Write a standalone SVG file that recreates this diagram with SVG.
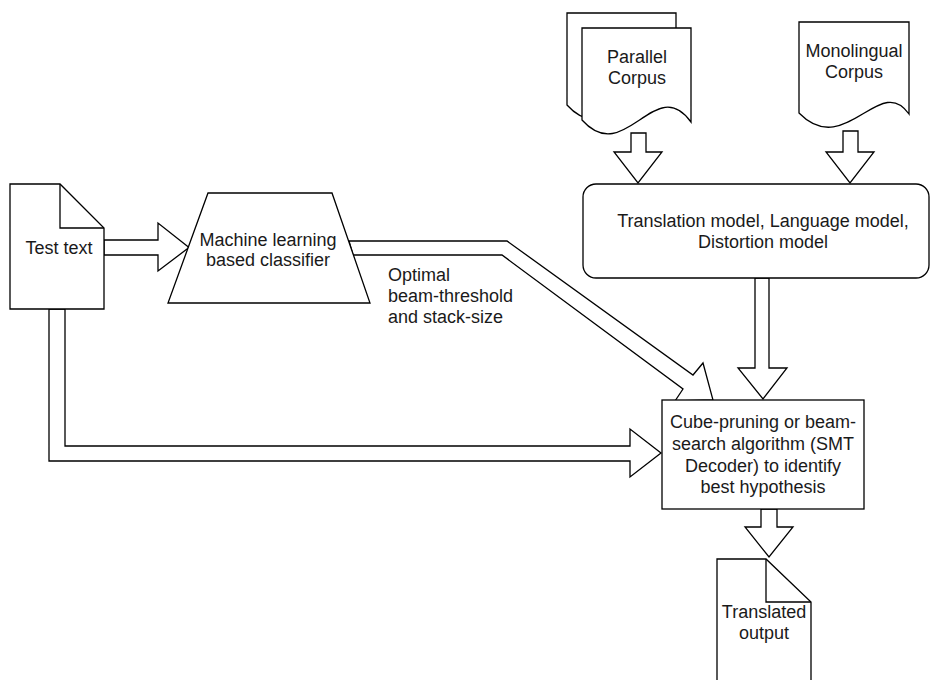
<svg xmlns="http://www.w3.org/2000/svg" width="931" height="680" viewBox="0 0 931 680">
  <style>
    .shape { fill: #ffffff; stroke: #000000; stroke-width: 1.3; stroke-linejoin: miter; }
    .line { fill: none; stroke: #000000; stroke-width: 1.3; }
    .arrow { fill: #ffffff; stroke: #000000; stroke-width: 1.3; stroke-linejoin: miter; }
    text { font-family: "Liberation Sans", Arial, Helvetica, sans-serif; font-size: 18px; fill: #1a1a1a; }
    .c { text-anchor: middle; }
  </style>
  <rect width="931" height="680" fill="#ffffff"/>

  <!-- hollow block arrows -->
  <g id="connectors">
    <!-- corpora into the model box -->
    <path class="arrow" d="M631,133 H646 V152 H662 L638,183 L614,152 H631 Z"/>
    <path class="arrow" d="M843,131 H858 V152 H874 L850,183 L826,152 H843 Z"/>
    <!-- test text into classifier -->
    <path class="arrow" d="M104,240 H158 V223 L189,247.5 L158,271 V255 H104 Z"/>
    <!-- classifier output to decoder (bent) -->
    <path class="arrow" d="M349,241 H507 L693,375 L703,363 L713,400 L675,401 L683,389 L502,255 H353 Z"/>
    <!-- test text straight to decoder -->
    <path class="arrow" d="M49,309 V461 H630 V477 L661,453 L630,429 V446 H65 V309 Z"/>
    <!-- models into decoder -->
    <path class="arrow" d="M755,278 H769 V368 H787 L763,399 L738,368 H755 Z"/>
    <!-- decoder to output -->
    <path class="arrow" d="M761,509 H777 V527 H793 L769,557 L745,527 H761 Z"/>
  </g>

  <g id="parallel-corpus">
    <path class="shape" d="M567,13 H676 V107 C640,57 610,153 567,105 Z"/>
    <path class="shape" d="M582,28 H691 V122 C655,72 625,168 582,120 Z"/>
    <text class="c" x="637" y="63">Parallel</text>
    <text class="c" x="637" y="84">Corpus</text>
  </g>

  <g id="monolingual-corpus">
    <path class="shape" d="M799,22 H909 V114 C880,72 845,160 799,113 Z"/>
    <text class="c" x="854" y="57">Monolingual</text>
    <text class="c" x="854" y="78">Corpus</text>
  </g>

  <g id="models">
    <rect class="shape" x="583" y="184" width="346" height="94" rx="13" ry="13"/>
    <text class="c" x="763" y="227">Translation model, Language model,</text>
    <text class="c" x="763" y="248">Distortion model</text>
  </g>

  <g id="test-text">
    <path class="shape" d="M10,184 H60 L104,228 V309 H10 Z"/>
    <path class="line" d="M60,184 V228 H104"/>
    <text class="c" x="59" y="254">Test text</text>
  </g>

  <g id="classifier">
    <path class="shape" d="M208,193 H332 L370,303 H168 Z"/>
    <text class="c" x="268" y="246">Machine learning</text>
    <text class="c" x="268" y="266">based classifier</text>
  </g>

  <g id="classifier-label">
    <text x="388" y="281">Optimal</text>
    <text x="388" y="302">beam-threshold</text>
    <text x="388" y="323">and stack-size</text>
  </g>

  <g id="decoder">
    <rect class="shape" x="662" y="400" width="202" height="109"/>
    <text class="c" x="763" y="428">Cube-pruning or beam-</text>
    <text class="c" x="763" y="450">search algorithm (SMT</text>
    <text class="c" x="763" y="471.5">Decoder) to identify</text>
    <text class="c" x="763" y="493">best hypothesis</text>
  </g>

  <g id="translated-output">
    <path class="shape" d="M717,559 H766 L811,602 V700 H717 Z"/>
    <path class="line" d="M766,559 V602 H811"/>
    <text class="c" x="764" y="618">Translated</text>
    <text class="c" x="764" y="639">output</text>
  </g>
</svg>
